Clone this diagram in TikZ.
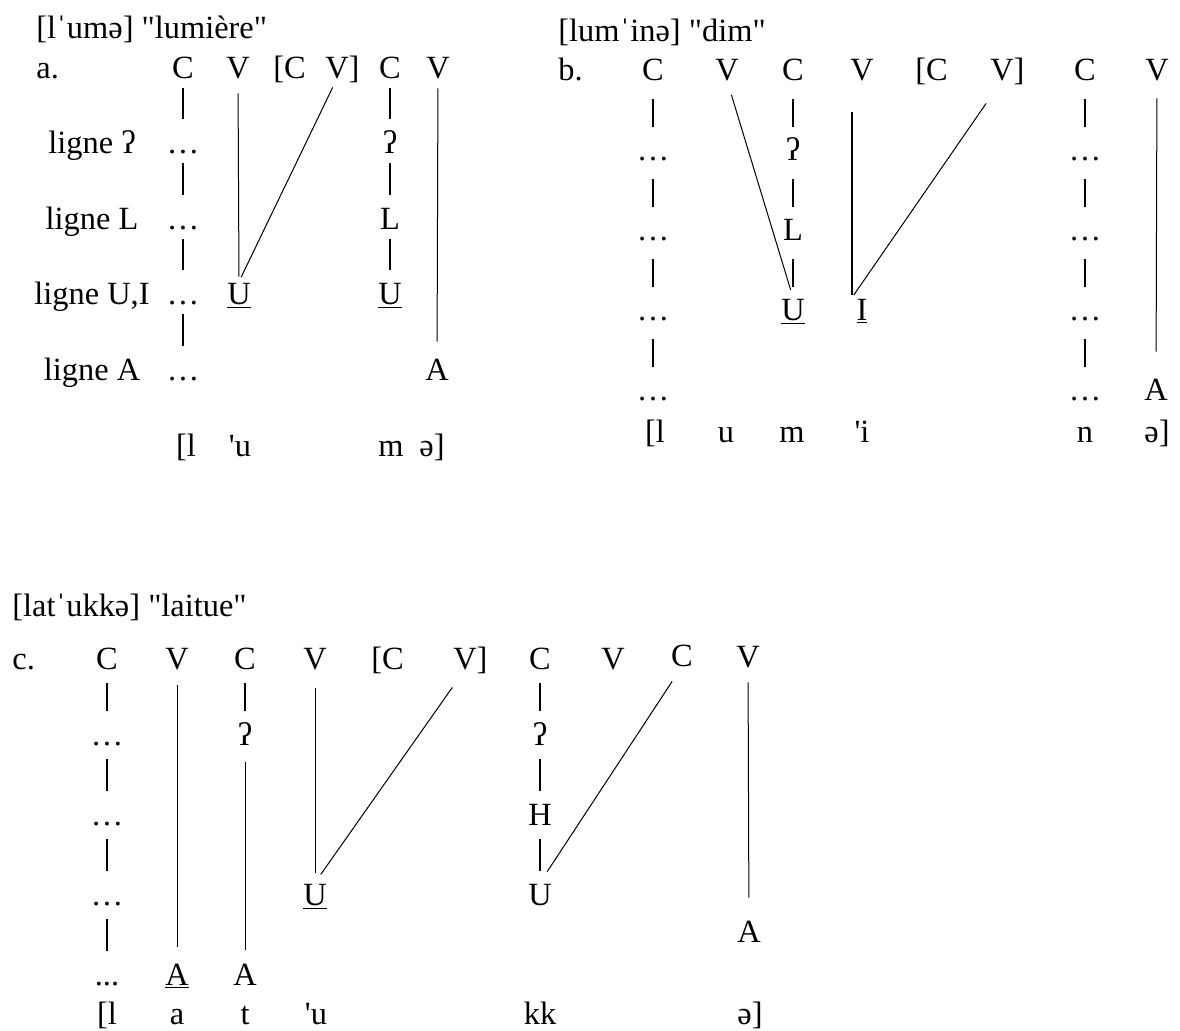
\documentclass[tikz,border=0pt]{standalone}
\usepackage{fontspec}
\setmainfont{Liberation Serif}[Ligatures=TeXOff]
\newcommand{\lingsize}{\fontsize{16.2}{20}\selectfont}
\tikzset{
  seg/.style={anchor=base,inner sep=0pt,text height=11pt,text depth=0pt,font=\lingsize},
  title/.style={anchor=base west,inner sep=0pt,font=\lingsize},
  tier/.style={line width=0.6pt,shorten <=5pt,shorten >=6pt},
  tierbold/.style={line width=1pt},
  assoc/.style={line width=0.5pt},
}

\begin{document}
\begin{tikzpicture}[x=0.5pt,y=-0.5pt]
  \useasboundingbox (0,0) rectangle (1180,1030);
  % a.
  \node[title] (tA) at (36,38) {[lˈumə] "lumière"};
  \node[title] (lA) at (36,78) {a.};
  \node[seg] (aC1) at (183,78) {C};
  \node[seg] (aV1) at (238,78) {V};
  \node[seg] (aC2) at (295,78) {\llap{[}C};
  \node[seg] (aV2) at (337,78) {V\rlap{]}};
  \node[seg] (aC3) at (390,78) {C};
  \node[seg] (aV3) at (438,78) {V};
  \node[seg] (gQ) at (92,153) {ligne ʔ};
  \node[seg] (gL) at (92,229) {ligne L};
  \node[seg] (gU) at (92,304) {ligne U,I};
  \node[seg] (gA) at (92,380) {ligne A};
  \node[seg] (aD1) at (183,153) {…};
  \node[seg] (aD2) at (183,229) {…};
  \node[seg] (aD3) at (183,304) {…};
  \node[seg] (aD4) at (183,380) {…};
  \node[seg] (aQ) at (390,153) {ʔ};
  \node[seg] (aL) at (390,229) {L};
  \node[seg] (aU1) at (239,304) {\underline{U}};
  \node[seg] (aU2) at (390,304) {\underline{U}};
  \node[seg] (aA) at (437,380) {A};
  \node[seg] (aS1) at (186,456) {[l};
  \node[seg] (aS2) at (240,456) {'u};
  \node[seg] (aS3) at (391,456) {m};
  \node[seg] (aS4) at (432,456) {ə]};
  \draw[tier] (aC1) -- (aD1);
  \draw[tier] (aD1) -- (aD2);
  \draw[tier] (aD2) -- (aD3);
  \draw[tier] (aD3) -- (aD4);
  \draw[tier] (aC3) -- (aQ);
  \draw[tier] (aQ) -- (aL);
  \draw[tier] (aL) -- (aU2);
  \draw[assoc,shorten <=7.5pt,shorten >=2.5pt] (aV1.south) -- (aU1.north);
  \draw[assoc,shorten <=5pt,shorten >=2.5pt] (aV2.south) -- (aU1.north);
  \draw[assoc,shorten <=5pt,shorten >=8pt] (aV3) -- (aA);
  % b.
  \node[title] (tB) at (558,41) {[lumˈinə] "dim"};
  \node[title] (lB) at (558,80) {b.};
  \node[seg] (bC1) at (653,80) {C};
  \node[seg] (bV1) at (727,80) {V};
  \node[seg] (bC2) at (793,80) {C};
  \node[seg] (bV2) at (862,80) {V};
  \node[seg] (bC3) at (937,80) {\llap{[}C};
  \node[seg] (bV3) at (1002,80) {V\rlap{]}};
  \node[seg] (bC4) at (1085,80) {C};
  \node[seg] (bV4) at (1157,80) {V};
  \node[seg] (bD1) at (653,160) {…};
  \node[seg] (bD2) at (653,240) {…};
  \node[seg] (bD3) at (653,320) {…};
  \node[seg] (bD4) at (653,400) {…};
  \node[seg] (bE1) at (1085,160) {…};
  \node[seg] (bE2) at (1085,240) {…};
  \node[seg] (bE3) at (1085,320) {…};
  \node[seg] (bE4) at (1085,400) {…};
  \node[seg] (bQ) at (793,160) {ʔ};
  \node[seg] (bL) at (793,240) {L};
  \node[seg] (bU) at (793,320) {\underline{U}};
  \node[seg] (bI) at (862,320) {\underline{I}};
  \node[seg] (bA) at (1156,400) {A};
  \node[seg] (bS1) at (655,442) {[l};
  \node[seg] (bS2) at (726,442) {u};
  \node[seg] (bS3) at (792,442) {m};
  \node[seg] (bS4) at (862,442) {'i};
  \node[seg] (bS5) at (1085,442) {n};
  \node[seg] (bS6) at (1157,442) {ə]};
  \begin{scope}[tier/.append style={shorten <=9.5pt,shorten >=5.5pt}]
    \draw[tier] (bC1) -- (bD1);
    \draw[tier] (bD1) -- (bD2);
    \draw[tier] (bD2) -- (bD3);
    \draw[tier] (bD3) -- (bD4);
    \draw[tier] (bC4) -- (bE1);
    \draw[tier] (bE1) -- (bE2);
    \draw[tier] (bE2) -- (bE3);
    \draw[tier] (bE3) -- (bE4);
    \draw[tier,tierbold] (bC2) -- (bQ);
    \draw[tier,tierbold] (bQ) -- (bL);
    \draw[tier,tierbold] (bL) -- (bU);
  \end{scope}
  \draw[assoc,shorten <=7.5pt,shorten >=4pt] (bV1.south) -- (bU.north);
  \draw[assoc,line width=1pt,shorten <=16pt,shorten >=1.5pt] ([xshift=-5pt]bV2.south) -- ([xshift=-5pt]bI.north);
  \draw[assoc,shorten <=14pt,shorten >=1.5pt] (bV3.south) -- ([xshift=-5pt]bI.north);
  \draw[assoc,shorten <=9pt,shorten >=13pt] (bV4) -- (bA);
  % c.
  \node[title] (tC) at (12,616) {[latˈukkə] "laitue"};
  \node[title] (lC) at (12,669) {c.};
  \node[seg] (cC1) at (107,669) {C};
  \node[seg] (cV1) at (177,669) {V};
  \node[seg] (cC2) at (245,669) {C};
  \node[seg] (cV2) at (315,669) {V};
  \node[seg] (cC3) at (393,669) {\llap{[}C};
  \node[seg] (cV3) at (465,669) {V\rlap{]}};
  \node[seg] (cC4) at (540,669) {C};
  \node[seg] (cV4) at (613,669) {V};
  \node[seg] (cC5) at (682,666) {C};
  \node[seg] (cV5) at (748,667) {V};
  \node[seg] (cD1) at (107,745) {…};
  \node[seg] (cD2) at (107,825) {…};
  \node[seg] (cD3) at (107,905) {…};
  \node[seg] (cD4) at (107,985) {...};
  \node[seg] (cA1) at (177,985) {\underline{A}};
  \node[seg] (cQ1) at (245,745) {ʔ};
  \node[seg] (cA2) at (245,985) {A};
  \node[seg] (cU1) at (315,905) {\underline{U}};
  \node[seg] (cQ2) at (540,745) {ʔ};
  \node[seg] (cH) at (540,825) {H};
  \node[seg] (cU2) at (540,905) {U};
  \node[seg] (cA3) at (749,942) {A};
  \node[seg] (cS1) at (107,1024) {[l};
  \node[seg] (cS2) at (177,1024) {a};
  \node[seg] (cS3) at (245,1024) {t};
  \node[seg] (cS4) at (316,1024) {'u};
  \node[seg] (cS5) at (540,1024) {kk};
  \node[seg] (cS6) at (750,1024) {ə]};
  \begin{scope}[tier/.append style={shorten <=7pt,shorten >=6pt}]
    \draw[tier] (cC1) -- (cD1);
    \draw[tier] (cD1) -- (cD2);
    \draw[tier] (cD2) -- (cD3);
    \draw[tier] (cD3) -- (cD4);
    \draw[tier] (cC2) -- (cQ1);
    \draw[tier,tierbold] (cC4) -- (cQ2);
    \draw[tier,tierbold] (cQ2) -- (cH);
    \draw[tier,tierbold] (cH) -- (cU2);
  \end{scope}
  \draw[assoc,shorten <=8pt,shorten >=8pt] (cV1) -- (cA1);
  \draw[assoc,shorten <=8.5pt,shorten >=6.5pt] (cQ1) -- (cA2);
  \draw[assoc,shorten <=9.5pt,shorten >=5pt] (cV2.south) -- (cU1.north);
  \draw[assoc,shorten <=11pt,shorten >=5pt] (cV3.south) -- (cU1.north);
  \draw[assoc,shorten <=9pt,shorten >=6.5pt] (cC5.south) -- (cU2.north);
  \draw[assoc,shorten <=7.5pt,shorten >=11pt] (cV5) -- (cA3);
\end{tikzpicture}
\end{document}
